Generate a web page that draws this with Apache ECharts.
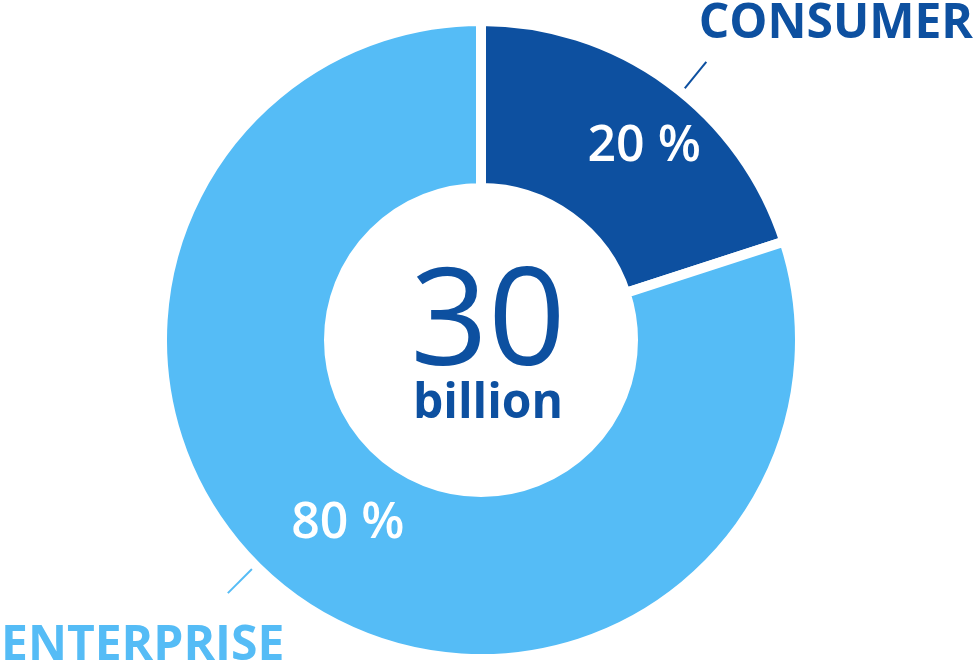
<!DOCTYPE html>
<html>
<head>
<meta charset="utf-8">
<script src="https://cdn.jsdelivr.net/npm/echarts@6/dist/echarts.min.js"></script>
<style>
html,body{margin:0;padding:0;background:#fff;}
#chart{width:975px;height:663px;}
</style>
</head>
<body>
<div id="chart"></div>
<script>
const categories = ['CONSUMER', 'ENTERPRISE'];
const shares = [20, 80];
const totalValue = '30';
const totalUnit = 'billion';
const sliceColors = ['#0d50a0', '#55bcf6'];

const FONT = '"Open Sans", "Noto Sans", sans-serif';
const chart = echarts.init(document.getElementById('chart'), null, {renderer: 'canvas'});

const CENTER = [481, 340];
const labelPos = [
  {x: 973, y: 24, align: 'right'},
  {x: 1, y: 646, align: 'left'}
];
const insideShift = [
  {dx: 23, dy: 0},
  {dx: 7, dy: -9}
];
// leader line angular offset (degrees, clockwise) relative to slice mid angle
const lineTurn = [3, 9];

function turnPoints(pts, deg) {
  if (!pts) return pts;
  const t = deg * Math.PI / 180;
  return pts.map(p => {
    const dx = p[0] - CENTER[0], dy = p[1] - CENTER[1];
    return [
      CENTER[0] + dx * Math.cos(t) - dy * Math.sin(t),
      CENTER[1] + dx * Math.sin(t) + dy * Math.cos(t)
    ];
  });
}

const option = {
  backgroundColor: '#ffffff',
  animation: false,
  series: [
    {
      type: 'pie',
      center: CENTER,
      radius: [152, 319],
      startAngle: 90,
      clockwise: true,
      silent: true,
      avoidLabelOverlap: false,
      itemStyle: {borderColor: '#ffffff', borderWidth: 10},
      label: {
        show: true,
        position: 'inside',
        formatter: p => p.value + ' %',
        color: '#ffffff',
        fontFamily: FONT,
        fontWeight: 600,
        fontSize: 50
      },
      labelLayout: p => insideShift[p.dataIndex],
      labelLine: {show: false},
      emphasis: {disabled: true},
      data: categories.map((n, i) => ({name: n, value: shares[i], itemStyle: {color: sliceColors[i]}}))
    },
    {
      type: 'pie',
      center: CENTER,
      radius: [152, 314],
      startAngle: 90,
      clockwise: true,
      silent: true,
      avoidLabelOverlap: false,
      itemStyle: {color: 'rgba(0,0,0,0)'},
      label: {
        show: true,
        position: 'outside',
        formatter: p => p.name,
        fontFamily: FONT,
        fontWeight: 700,
        fontSize: 48,
        width: 330,
        overflow: 'none'
      },
      labelLine: {show: true, length: 44, length2: 0, smooth: false, lineStyle: {width: 2}},
      labelLayout: p => ({
        x: labelPos[p.dataIndex].x,
        y: labelPos[p.dataIndex].y,
        align: labelPos[p.dataIndex].align,
        verticalAlign: 'middle',
        labelLinePoints: turnPoints(p.labelLinePoints, lineTurn[p.dataIndex])
      }),
      emphasis: {disabled: true},
      data: categories.map((n, i) => ({
        name: n,
        value: shares[i],
        label: {color: sliceColors[i]},
        labelLine: {lineStyle: {color: sliceColors[i], width: 2}}
      }))
    }
  ],
  graphic: [
    {
      type: 'text',
      x: 488, y: 326,
      style: {
        text: totalValue,
        fill: sliceColors[0],
        font: '400 136px ' + FONT,
        align: 'center',
        verticalAlign: 'middle'
      }
    },
    {
      type: 'text',
      x: 488, y: 404,
      style: {
        text: totalUnit,
        fill: sliceColors[0],
        font: '700 48px ' + FONT,
        align: 'center',
        verticalAlign: 'middle'
      }
    }
  ]
};
chart.setOption(option);
</script>
</body>
</html>
